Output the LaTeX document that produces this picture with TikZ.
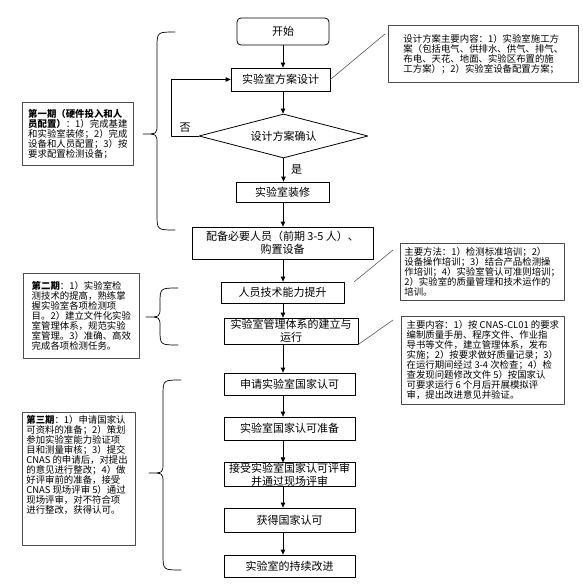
\documentclass[tikz,border=0pt]{standalone}
\usepackage{fontspec}
\newfontfamily\cjk{Noto Sans CJK SC}
\usetikzlibrary{shapes.geometric,arrows.meta}
\begin{document}
\begin{tikzpicture}[x=1pt,y=-1pt,line cap=round,line join=round,font=\cjk\fontsize{11}{13}\selectfont,
	box/.style={draw,line width=0.8pt,inner sep=0pt,align=center},
	note/.style={draw=black!70,line width=0.7pt,anchor=north west,align=left,inner xsep=4pt,inner ysep=2pt,font=\cjk\fontsize{9.4}{10}\selectfont},
	arr/.style={line width=0.8pt,-{Triangle[length=5pt,width=4.5pt]}},
	link/.style={draw=black!65,line width=0.6pt}]
	\useasboundingbox (0,0) rectangle (582,587);
	\coordinate (axis) at (283,0);
	% main flow
	\node[box,rounded corners=4pt,minimum width=92pt,minimum height=27pt] (start) at (283,31.5) {开始};
	\node[box,minimum width=99pt,minimum height=23pt] (design) at (280.5,79.5) {实验室方案设计};
	\node[box,diamond,aspect=3.84,minimum width=169pt,minimum height=44pt] (confirm) at (283.5,136) {设计方案确认};
	\node[box,minimum width=93pt,minimum height=20pt] (decor) at (282.5,192) {实验室装修};
	\node[box,minimum width=181pt,minimum height=32pt] (staff) at (282.5,243) {配备必要人员（前期 3-5 人）、\\购置设备};
	\node[box,minimum width=123pt,minimum height=21pt] (skill) at (282.5,292.5) {人员技术能力提升};
	\node[box,minimum width=134pt,minimum height=26pt] (mgmt) at (291,331) {实验室管理体系的建立与\\运行};
	\node[box,minimum width=131pt,minimum height=22pt] (apply) at (289.5,384) {申请实验室国家认可};
	\node[box,minimum width=131pt,minimum height=23pt] (prep) at (289.5,428.5) {实验室国家认可准备};
	\node[box,minimum width=131pt,minimum height=23pt] (review) at (289.5,474.5) {接受实验室国家认可评审\\并通过现场评审};
	\node[box,minimum width=131pt,minimum height=24pt] (obtain) at (289.5,520) {获得国家认可};
	\node[box,minimum width=131pt,minimum height=22pt] (improve) at (289.5,566) {实验室的持续改进};
	\foreach \a/\b in {start/design,design/confirm,decor/staff,staff/skill,skill/mgmt,mgmt/apply,apply/prep,prep/review,review/obtain,obtain/improve}
	\draw[arr] (\a.south -| axis) -- (\b.north -| axis);
	\draw[arr] (confirm.south) -- node[right=4pt] (yes) {是} (decor.north -| confirm.south);
	\draw[arr] (confirm.west) -- node[above] (no) {否} ++(-27,0) |- (design.west);
	% notes on the right
	\node[note,minimum width=190pt,minimum height=57pt] (plan) at (388,25) {设计方案主要内容：1）实验室施工方\\案（包括电气、供排水、供气、排气、\\布电、天花、地面、实验区布置的施\\工方案）；2）实验室设备配置方案；};
	\node[note,minimum width=163pt,minimum height=57pt] (method) at (400,243) {主要方法：1）检测标准培训；2）\\设备操作培训；3）结合产品检测操\\作培训；4）实验室管认可准则培训；\\2）实验室的质量管理和技术运作的\\培训。};
	\node[note,minimum width=163pt,minimum height=88pt] (content) at (401,316) {主要内容：1）按 CNAS-CL01 的要求\\编制质量手册、程序文件、作业指\\导书等文件，建立管理体系，发布\\实施；2）按要求做好质量记录；3）\\在运行期间经过 3-4 次检查；4）检\\查发现问题修改文件 5）按国家认\\可要求运行 6 个月后开展模拟评\\审，提出改进意见并验证。};
	\draw[link] (design.east) -- ([xshift=-3pt,yshift=-9pt]plan.north west);
	\draw[link] ([xshift=10pt]skill.north east) -- ([xshift=-7pt,yshift=-7pt]method.north west);
	\draw[link] (mgmt.south east) -- ([xshift=-8pt,yshift=-4pt]content.north west);
	% phases on the left
	\node[note,minimum width=111pt,minimum height=63pt] (phase1) at (22,102) {{\bfseries 第一期（硬件投入和人}\\{\bfseries 员配置）}：1）完成基建\\和实验室装修；2）完成\\设备和人员配置；3）按\\要求配置检测设备；};
	\node[note,minimum width=116pt,minimum height=85pt] (phase2) at (23,273) {{\bfseries 第二期}：1）实验室检\\测技术的提高，熟练掌\\握实验室各项检测项\\目。2）建立文件化实验\\室管理体系，规范实验\\室管理。3）准确、高效\\完成各项检测任务。};
	\node[note,inner xsep=4pt,inner ysep=3pt] (phase3) at (22,412) {\parbox[t][127pt][t]{105pt}{{\bfseries 第三期}：1）申请国家认\\可资料的准备；2）策划\\参加实验室能力验证项\\目和测量审核；3）提交\\CNAS 的申请后，对提出\\的意见进行整改；4）做\\好评审前的准备，接受\\CNAS 现场评审 5）通过\\现场评审，对不符合项\\进行整改，获得认可。}};
	\foreach \yt/\ym/\yb/\xl in {32/134/230/157,288/317/345/160,380/473/570/163}
	\draw[line width=0.7pt] (\xl+18,\yt) .. controls (\xl,\yt) .. (\xl,\yt+16) -- (\xl,\ym-10) .. controls (\xl,\ym) .. (\xl-14,\ym) .. controls (\xl,\ym) .. (\xl,\ym+10) -- (\xl,\yb-16) .. controls (\xl,\yb) .. (\xl+18,\yb);
\end{tikzpicture}
\end{document}
